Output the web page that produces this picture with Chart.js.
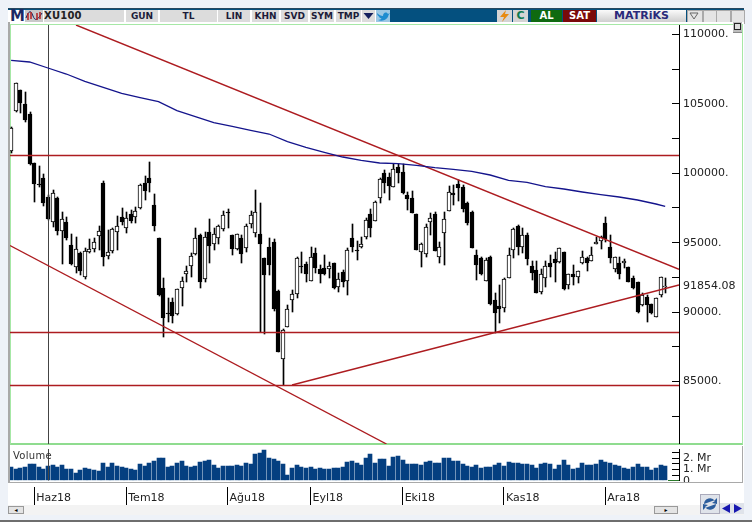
<!DOCTYPE html>
<html><head><meta charset="utf-8">
<script src="https://cdn.jsdelivr.net/npm/chart.js@4"></script>
<style>
html,body{margin:0;padding:0;width:752px;height:522px;overflow:hidden;background:#eef2f8;font-family:"DejaVu Sans",sans-serif}
.a{position:absolute;box-sizing:border-box}
.c{position:absolute;top:10px;height:12px;background:#dcdcdc;font:bold 9px/12.5px "DejaVu Sans";color:#1c1c3a;text-align:center;white-space:nowrap}
canvas{position:absolute;display:block}
</style></head><body>
<div class="a" style="left:8px;top:8px;width:736px;height:14px;background:#04507f;border-top:1px solid #27475f"></div>
<div class="a" style="left:8px;top:10px;width:368px;height:12px;background:#fff"></div>
<div class="a" style="left:10px;top:9px;font:bold 15px/14px 'DejaVu Sans';color:#1a2a66">M</div>
<div class="c" style="left:25px;width:18px;background:#c9c9c9"><svg width="18" height="12" style="display:block"><path d="M1 8 C4 0 6 0 8 6 C10 11 12 11 17 3" stroke="#14205e" fill="none"/><path d="M3 3V10M6 2V9M12 3V10M15 2V9" stroke="#b32020" stroke-width="1.5"/></svg></div>
<div class="c" style="left:44px;width:80px;text-align:left;font:bold 10px/12.5px 'DejaVu Sans';letter-spacing:.2px;color:#222">XU100</div>
<div class="c" style="left:126px;width:32px">GUN</div>
<div class="c" style="left:160px;width:57px">TL</div>
<div class="c" style="left:218px;width:32px">LIN</div>
<div class="c" style="left:252px;width:27px">KHN</div>
<div class="c" style="left:281px;width:27px">SVD</div>
<div class="c" style="left:310px;width:24px">SYM</div>
<div class="c" style="left:336px;width:25px">TMP</div>
<div class="c" style="left:362px;width:13px"><svg width="13" height="12" style="display:block"><path d="M1.5 3H11.5L6.5 9Z" fill="#14205e"/></svg></div>
<svg class="a" style="left:376px;top:10px;background:#9cc8e4" width="14" height="12"><path d="M1 3C3 5 5 6 7 6C7 3 10 1 12 4L14 3L12.5 5C12 9 7 12 2 10C4 10 5 9 5.5 8.5C3.5 8 3 7 3 6.5C2 6 1 5 1 3Z" fill="#1f8dd0"/></svg>
<div class="c" style="left:497px;width:15px;background:#d4d4d4"><svg width="15" height="12" style="display:block"><path d="M9 0L3 7H7L5 12L12 4H8Z" fill="#e88a10"/></svg></div>
<div class="c" style="left:513px;width:15px;background:#d4d4d4;color:#0d7a50;font-size:11px">C</div>
<div class="c" style="left:531px;width:31px;background:#0f6a10;color:#fff;font-size:10px">AL</div>
<div class="c" style="left:563px;width:33px;background:#7a0a0a;color:#fff;font-size:10px">SAT</div>
<div class="c" style="left:597px;width:89px;background:linear-gradient(#fafafa,#cfcfcf);color:#2a2a7a;font-size:11px">MATRiKS</div>
<div class="c" style="left:687px;width:14px;background:#e4e4e4;border:1px solid #aaa"><svg width="12" height="10" style="display:block"><path d="M2 2H10L6 8Z" fill="none" stroke="#666"/></svg></div>
<div class="c" style="left:703px;width:12px;background:#e4e4e4;border:1px solid #aaa"></div>
<div class="c" style="left:716px;width:13px;background:#e4e4e4;border:1px solid #aaa"></div>
<div class="c" style="left:731px;width:12px;background:#e4e4e4;border:1px solid #aaa"></div>

<div class="a" style="left:8px;top:22px;width:736px;height:461px;background:#fff;border-left:2px solid #a9a9a9;border-right:2px solid #fff"></div>
<div class="a" style="left:10px;top:24px;width:733px;height:421px;border:1px solid #a6e8a6;border-bottom:2px solid #8fdc8f"></div>
<div class="a" style="left:8px;top:482px;width:735px;height:1px;background:#a9a9a9"></div>
<div class="a" style="left:742px;top:446px;width:1px;height:37px;background:#a9a9a9"></div>
<div class="a" style="left:8px;top:483px;width:736px;height:22px;background:#fff"></div>
<div class="a" style="left:8px;top:505px;width:736px;height:10px;background:#f3f3f3"></div>

<canvas id="priceChart" width="732" height="419" style="left:10px;top:25px"></canvas>
<canvas id="volumeChart" width="732" height="33" style="left:10px;top:449px"></canvas>
<canvas id="axisChart" width="732" height="22" style="left:10px;top:483px"></canvas>

<div class="a" style="left:13px;top:450px;font:10px/12px 'DejaVu Sans';color:#333;letter-spacing:.3px">Volume</div>
<div class="a" style="left:681px;top:279px;width:54px;height:14px;background:#fff;font:11px/14px 'DejaVu Sans';color:#222;padding-left:2px" id="lastLabel"></div>
<div class="a" style="left:668px;top:480px;width:11px;height:1px;background:#2a7a2a"></div>
<div class="a" style="left:733px;top:22px;width:9px;height:11px;background:#bdbdbd;border-bottom:1px solid #888"><div class="a" style="left:1px;top:1px;width:7px;height:7px;border:1.5px solid #222;background:#ddd"></div></div>
<div class="a" style="left:8px;top:506px;width:16px;height:8px;background:#e4e4e4;border:1px solid #999;font:6px/6px 'DejaVu Sans';text-align:center">◂</div>
<div class="a" style="left:654px;top:506px;width:24px;height:8px;background:#e4e4e4;border:1px solid #999;font:6px/6px 'DejaVu Sans';text-align:center">▸</div>
<div class="a" style="left:700px;top:494px;width:20px;height:20px;background:#dfe3ea;border:1px solid #aab"><svg width="18" height="18" style="display:block"><path d="M3 9A6 6 0 0 1 14 6L11 8L16 9L16 3L14 5M15 9A6 6 0 0 1 4 12L7 10L2 9L2 15L4 13" fill="#2a5c9c"/></svg></div>
<svg class="a" style="left:720px;top:503px" width="12" height="11"><rect width="12" height="11" fill="#dfe3ea"/><path d="M10 1V10L2 5.5Z" fill="#1818b0"/></svg>
<svg class="a" style="left:732px;top:503px" width="12" height="11"><rect width="12" height="11" fill="#dfe3ea"/><path d="M2 1V10L10 5.5Z" fill="#1818b0"/></svg>
<div class="a" style="left:0;top:520px;width:752px;height:2px;background:#6e6e6e"></div>

<script>
const opens=[101604,104487,106000,104990,104270,100740,99248,99659,98312,96489,98218,95862,96467,94832,93269,94255,92548,94306,94565,95502,99277,94061,94400,95790,96827,96079,97044,96827,97520,99277,99637,97714,95315,91712,89968,90703,89839,91712,92721,93319,94162,95552,92360,95747,94882,95315,95963,97188,95552,94522,95315,94594,96323,95675,95603,93873,94666,95026,91495,86596,88945,90891,91280,93319,93441,92260,94234,93081,93153,93124,93513,91827,92865,92260,95315,94472,94710,95430,97044,96583,98240,100041,99710,99032,100430,100070,98413,98196,97044,94349,94162,96467,97066,93946,95675,97303,98557,99227,99033,97879,97231,94111,93873,92260,93989,90869,90401,90271,92476,94472,96200,94666,95552,93319,93030,91467,92476,93513,93801,93585,94349,91950,92742,92548,93513,93873,93701,94925,95142,96395,94666,93081,93513,93513,93225,92432,92145,90487,91107,90559,89665,91229,91790];
const highs=[103334,106525,106000,105855,104414,100740,100524,99947,98434,98795,98290,97231,96849,95624,95408,94328,94616,95264,95336,96201,99443,95912,96057,96943,97498,97231,97353,97591,99227,99803,100833,98506,95336,92432,91013,91013,91662,92548,93319,94255,96035,95624,95790,96683,96035,96273,97281,97404,95552,95624,95552,96345,97281,98794,97836,93873,95315,95264,91590,88758,90509,91590,93945,94349,93628,94666,94594,93391,94111,93628,93535,92793,93030,94594,96345,95142,95387,96756,97404,98002,99637,100235,99998,100668,100668,100668,98672,98722,97066,94997,96345,97116,97231,95070,97231,99083,99155,99515,99155,97951,97281,94472,93989,93873,94039,91352,91950,92432,94637,96035,96273,96035,95675,93701,93701,93081,93701,94111,94349,94616,94349,92721,93391,92980,94421,93989,94666,95430,95502,96828,95552,93989,93945,93801,93247,92598,92187,91395,91229,90581,91049,92562,92484];
const lows=[101460,104450,104342,103694,100596,97950,99010,97642,96633,96129,95553,93463,95192,93391,92814,92670,92382,94255,94328,94472,93340,93823,94277,94472,96273,95718,96438,96438,97461,98074,98672,95862,91193,88224,89306,89212,89788,90458,92187,92548,94125,91712,92187,93513,94472,94904,95840,96035,94111,94485,93557,94349,96035,95430,88542,88398,92670,90077,87122,84723,88923,90026,91035,92814,92187,92238,92836,92072,92706,92432,91676,91467,91827,91229,94349,93751,94594,95264,95387,96561,97836,98600,98074,98989,99277,98521,97353,97138,94436,93225,93989,95553,94400,93513,93391,97281,97714,98024,97231,96273,94616,92310,92670,92238,90537,88513,89233,90026,92432,93873,94111,94234,93391,92310,91352,91301,91827,92504,92187,93549,91590,91640,91950,92072,93477,92980,93679,94882,94544,95070,93557,92908,92360,93153,92166,91661,89954,90437,89306,89860,89622,91107,91373];
const closes=[103262,106525,105085,103838,100668,99205,99176,97858,96705,98600,95862,96683,95336,93463,94544,92980,94421,94522,95026,95862,93989,94349,95963,96223,96510,96756,96583,97281,99133,98744,99277,96201,91229,89550,89896,89738,91640,92260,92980,94061,95315,92145,95387,94782,95603,96179,96971,97116,94522,95603,94162,96179,96971,97188,94925,92670,93391,90220,87144,88707,90199,91280,93873,93246,92721,93945,93196,92742,92742,93319,91712,92360,92187,94472,94710,94378,94882,96633,96079,97951,99565,99277,99104,100286,99998,98557,98146,97159,94472,94882,96107,96756,94421,94709,96683,98629,98456,98960,97425,96438,94637,93391,92721,93751,90559,89954,90185,92360,94111,95963,94709,95552,93801,92836,91395,92742,93319,93269,93556,94594,91640,92721,92548,92980,93945,93513,94111,95070,95387,95242,93873,93945,92742,93701,92187,91712,90026,91229,90509,89910,91035,92548,91854];
const volumes=[1.21,1.06,1.12,1.24,1.44,1.47,1.18,1.0,1.29,1.35,1.24,1.35,1.0,1.0,.65,.91,1.09,1.06,.94,.85,1.53,1.24,1.53,1.29,1.21,1.09,1.06,.91,1.44,1.29,1.53,1.76,1.97,2.03,1.24,1.29,1.53,1.71,1.26,1.21,1.26,1.68,1.76,1.79,1.38,1.15,1.32,1.29,1.29,1.35,1.29,1.53,1.5,2.38,2.47,2.76,1.97,1.88,1.71,1.47,.5,1.12,1.35,1.18,1.12,1.18,1.06,1.09,1.0,1.06,1.09,1.12,1.21,1.68,1.74,1.53,1.35,1.97,2.32,1.59,1.94,1.91,1.29,2.06,2.18,1.82,1.5,1.44,1.44,1.35,1.62,1.74,1.59,1.59,1.97,2.0,1.71,1.74,1.47,1.26,1.24,1.35,1.09,1.18,1.21,1.41,1.53,1.26,1.62,1.56,1.53,1.47,1.44,1.38,1.15,1.44,1.53,1.47,1.06,1.35,1.79,1.38,1.03,1.12,1.53,1.38,1.38,1.44,1.79,1.65,1.56,1.35,1.29,1.09,1.06,1.24,1.44,1.21,1.18,.94,1.15,1.35,1.29];
const maIndex=[0,4,8,12,16,20,24,28,32,36,40,44,48,52,56,60,64,68,72,76,80,84,88,92,96,100,104,108,112,116,120,124,128,132,136,140,142];
const maValues=[108139,108017,107585,107152,106626,106194,105762,105445,105157,104508,104076,103643,103384,103096,102829,102274,101871,101511,101172,100934,100740,100690,100574,100401,100286,100142,99875,99493,99349,99032,98866,98650,98456,98290,98074,97786,97620];
const levelLines=[101280,88527,84708];
const fallingUpper=[[14.09,110683],[145,93082]];
const fallingLower=[[-0.24,94796],[81.5,80494]];
const risingLine=[[60.99,84745],[145,91950]];
const cursorIndex=8.12;
const monthIndex=[5,25,47,65,85,107,129];
const monthLabels=['Haz18','Tem18','Ağu18','Eyl18','Eki18','Kas18','Ara18'];
const priceTicks=[82500,85000,87500,90000,92500,95000,97500,100000,102500,105000,107500,110000];
const priceLabels=[85000,90000,95000,100000,105000,110000];
const volumeLabels={0:'0',1:'1. Mr',2:'2. Mr'};
const lastPrice='91854.08';

const xMin=-0.241,xMax=145.0,yMin=80494,yMax=110683,RED='#ad1c20',FONT={family:'"DejaVu Sans"',size:11};
document.getElementById('lastLabel').textContent=lastPrice;
const pts=a=>a.map(p=>({x:p[0],y:p[1]}));
const lineDs=(data,color,w,order)=>({type:'line',data,borderColor:color,borderWidth:w,pointRadius:0,tension:0,order});
const zero=s=>{s.paddingTop=0;s.paddingBottom=0;s.paddingLeft=0;s.paddingRight=0};
const base={responsive:false,animation:false,devicePixelRatio:1,events:[],plugins:{legend:{display:false},tooltip:{enabled:false}},layout:{padding:0}};
const xHidden={type:'linear',display:false,min:xMin,max:xMax,offset:false,grid:{offset:false}};
/* keep the laid-out bars on whole device pixels, as the terminal's own renderer does */
const snapBars={id:'snapBars',beforeDatasetsDraw(chart){
  chart.data.datasets.forEach((ds,d)=>{
    const meta=chart.getDatasetMeta(d);
    if(meta.type!=='bar')return;
    meta.data.forEach(el=>{
      const wick=el.width<2;
      el.x=Math.round(el.x)+(wick?0.5:0);
      const top=Math.round(Math.min(el.y,el.base));
      const bot=Math.max(Math.round(Math.max(el.y,el.base)),top+1);
      el.y=top;el.base=bot;
    });
  });
}};

new Chart(document.getElementById('priceChart'),{type:'bar',plugins:[snapBars],data:{datasets:[
  {data:highs.map((h,i)=>({x:i,y:[lows[i],h]})),backgroundColor:'#000',barThickness:1,grouped:false,order:5},
  {data:opens.map((o,i)=>({x:i,y:[o,closes[i]]})),
   backgroundColor:opens.map((o,i)=>closes[i]>=o?'#fff':'#000'),borderColor:'#000',borderWidth:1,borderSkipped:false,barThickness:4,grouped:false,order:4},
  ...levelLines.map(v=>lineDs([{x:xMin,y:v},{x:xMax,y:v}],RED,1.4,2)),
  lineDs(pts(fallingUpper),RED,1.4,2),lineDs(pts(fallingLower),RED,1.4,2),lineDs(pts(risingLine),RED,1.4,2),
  lineDs(maIndex.map((x,i)=>({x,y:maValues[i]})),'#14148c',1.3,1),
  lineDs([{x:cursorIndex,y:yMin},{x:cursorIndex,y:yMax}],'#444',1,3)
]},options:{...base,scales:{
  x:xHidden,
  y:{position:'right',min:yMin,max:yMax,afterFit:s=>{s.width=63;zero(s)},
     afterBuildTicks:s=>{s.ticks=priceTicks.map(value=>({value}))},
     grid:{drawOnChartArea:false,tickLength:-7,tickColor:'#000'},border:{display:true,color:'#000'},
     ticks:{padding:11,color:'#222',font:FONT,autoSkip:false,
       callback:v=>priceLabels.includes(v)?v+'.':''}}
}}});

new Chart(document.getElementById('volumeChart'),{type:'bar',plugins:[snapBars],data:{datasets:[
  {data:volumes.map((v,i)=>({x:i,y:v})),backgroundColor:'#053f80',barThickness:4,order:2},
  lineDs([{x:cursorIndex,y:0},{x:cursorIndex,y:2.8}],'#444',1,1)
]},options:{...base,layout:{padding:{bottom:1.3}},scales:{
  x:xHidden,
  y:{position:'right',min:0,max:2.805,afterFit:s=>{s.width=63;zero(s)},
     grid:{drawOnChartArea:false,tickLength:-7,tickColor:'#000'},border:{display:true,color:'#000'},
     ticks:{stepSize:0.5,includeBounds:false,padding:11,color:'#222',font:FONT,autoSkip:false,
       callback:v=>volumeLabels[v]||''}}
}}});

new Chart(document.getElementById('axisChart'),{type:'bar',data:{datasets:[{data:[]}]},options:{...base,layout:{padding:{right:63}},scales:{
  y:{display:false,min:0,max:1},
  x:{type:'linear',position:'bottom',min:xMin,max:xMax,offset:false,afterFit:s=>{s.height=18;zero(s)},
     afterBuildTicks:s=>{s.ticks=monthIndex.map(value=>({value}))},
     grid:{offset:false,drawOnChartArea:false,tickLength:18,tickColor:'#000'},border:{display:false},
     ticks:{align:'start',padding:-13,labelOffset:2,maxRotation:0,autoSkip:false,color:'#222',font:FONT,
       callback:v=>monthLabels[monthIndex.indexOf(v)]}}
}}});
</script>
</body></html>
